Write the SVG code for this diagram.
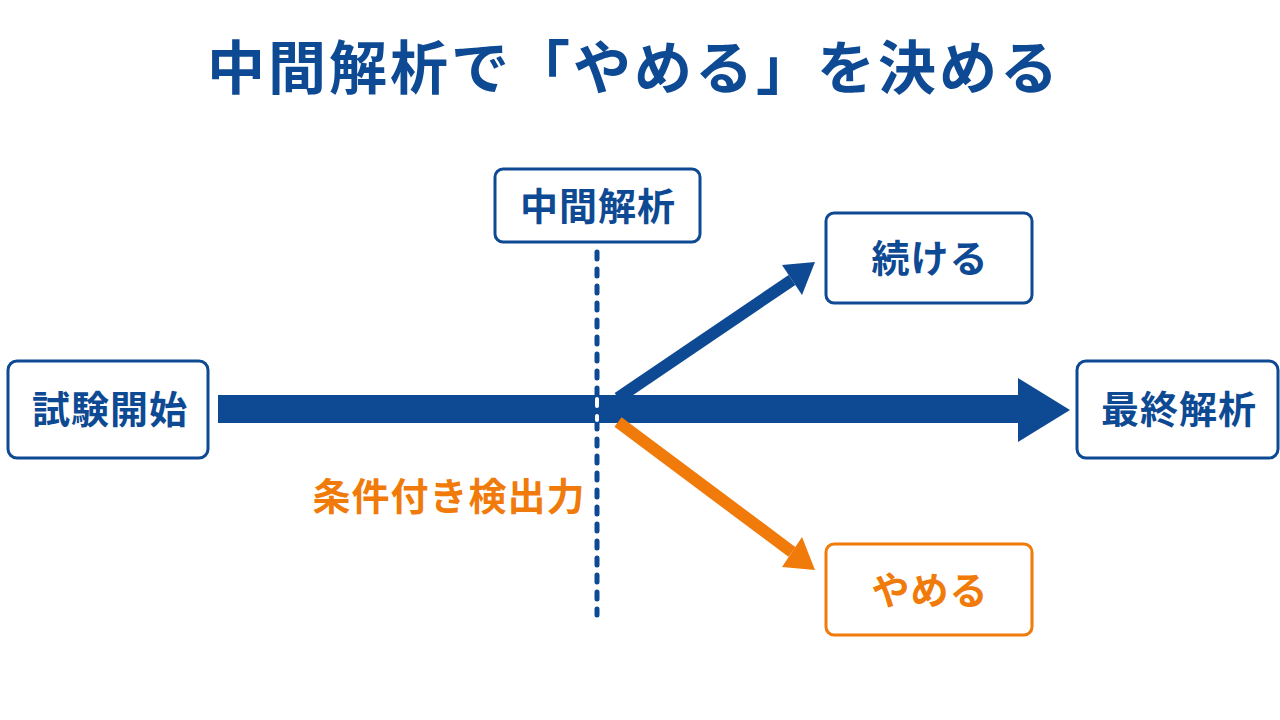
<svg xmlns="http://www.w3.org/2000/svg" width="1280" height="720" viewBox="0 0 1280 720">
<style>
.t{font-family:"Noto Sans CJK JP","Noto Sans CJK SC",sans-serif;font-weight:700;text-anchor:middle}
.n{font-size:38px;letter-spacing:1px}
.b{fill:#fff;stroke:#0E4A93;stroke-width:3}
.o{fill:#fff;stroke:#F07B0A;stroke-width:3}
.bt{fill:#0E4A93}
.ot{fill:#F07B0A}
</style>
<rect width="1280" height="720" fill="#fff"/>
<text class="t bt" x="634" y="89" font-size="58" letter-spacing="3">中間解析で「やめる」を決める</text>
<g id="connectors">
<rect x="218" y="395" width="802" height="28" fill="#0E4A93"/>
<polygon points="1018,378 1070,410 1018,442" fill="#0E4A93"/>
<line x1="618" y1="398" x2="792" y2="280" stroke="#0E4A93" stroke-width="12"/>
<polygon points="815,262 782,265 802,295" fill="#0E4A93"/>
<line x1="618" y1="422" x2="792" y2="552" stroke="#F07B0A" stroke-width="12"/>
<polygon points="815,570 782,567 802,537" fill="#F07B0A"/>
<line x1="597" y1="252" x2="597" y2="615" stroke="#0E4A93" stroke-width="5" stroke-linecap="round" stroke-dasharray="7 10"/>
<line x1="597" y1="399" x2="597" y2="420" stroke="#fff" stroke-width="4" stroke-linecap="round" stroke-dasharray="7 10"/>
</g>
<g id="n-interim">
<rect class="b" x="495" y="169" width="205" height="73" rx="8"/>
<text class="t bt n" x="598" y="220">中間解析</text>
</g>
<g id="n-start">
<rect class="b" x="8" y="361" width="200" height="97" rx="9"/>
<text class="t bt n" x="110" y="423">試験開始</text>
</g>
<g id="n-final">
<rect class="b" x="1077" y="361" width="201" height="97" rx="9"/>
<text class="t bt n" x="1179" y="423">最終解析</text>
</g>
<g id="n-continue">
<rect class="b" x="826" y="213" width="206" height="90" rx="8"/>
<text class="t bt n" x="930" y="272">続ける</text>
</g>
<g id="n-stop">
<rect class="o" x="826" y="544" width="206" height="91" rx="8"/>
<text class="t ot n" x="930" y="604">やめる</text>
</g>
<g id="label">
<text class="t ot n" x="449" y="510">条件付き検出力</text>
</g>
</svg>
